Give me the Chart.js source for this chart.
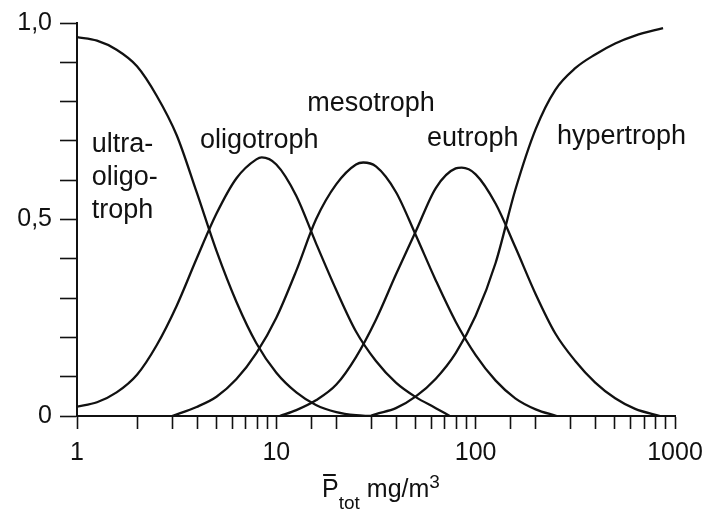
<!DOCTYPE html>
<html>
<head>
<meta charset="utf-8">
<script src="https://cdn.jsdelivr.net/npm/chart.js@4"></script>
<style>
  body { margin: 0; background: #fff; }
  #wrap { width: 706px; height: 513px; }
</style>
</head>
<body>
<div id="wrap"><canvas id="trophie" width="706" height="513"></canvas></div>
<script>
const ultraX = [1, 1.26, 1.58, 2.0, 2.51, 3.16, 3.98, 5.01, 6.31, 7.94, 10, 12.6, 15.8, 20.0, 25.1, 29.5];
const ultraY = [0.964, 0.955, 0.932, 0.89, 0.815, 0.715, 0.57, 0.42, 0.29, 0.185, 0.11, 0.06, 0.028, 0.01, 0.002, 0];

const oligoX = [1, 1.26, 1.58, 2.0, 2.51, 3.16, 3.98, 5.01, 6.31, 7.94, 8.45, 10, 12.6, 15.8, 20.0, 25.1, 31.6, 39.8, 50.1, 63.1, 74.1];
const oligoY = [0.024, 0.035, 0.06, 0.105, 0.18, 0.28, 0.40, 0.515, 0.605, 0.653, 0.658, 0.64, 0.56, 0.44, 0.32, 0.215, 0.14, 0.085, 0.048, 0.02, 0];

const mesoX = [3.0, 3.98, 5.01, 6.31, 7.94, 10, 12.6, 15.8, 20.0, 25.1, 27.3, 31.6, 39.8, 50.1, 63.1, 79.4, 100, 126, 158, 200, 255];
const mesoY = [0, 0.023, 0.049, 0.094, 0.16, 0.25, 0.37, 0.50, 0.59, 0.64, 0.645, 0.635, 0.57, 0.46, 0.345, 0.24, 0.155, 0.09, 0.045, 0.017, 0];

const eutroX = [10.4, 12.6, 15.8, 20.0, 25.1, 31.6, 39.8, 50.1, 63.1, 79.4, 85.1, 100, 126, 158, 200, 251, 316, 398, 501, 631, 841];
const eutroY = [0, 0.015, 0.04, 0.08, 0.15, 0.245, 0.36, 0.47, 0.58, 0.63, 0.632, 0.615, 0.54, 0.43, 0.31, 0.21, 0.14, 0.085, 0.045, 0.018, 0];

const hyperX = [29.5, 31.6, 39.8, 50.1, 63.1, 79.4, 100, 126, 158, 200, 251, 316, 398, 501, 631, 871];
const hyperY = [0, 0.005, 0.02, 0.05, 0.095, 0.16, 0.255, 0.39, 0.575, 0.73, 0.83, 0.885, 0.92, 0.948, 0.968, 0.987];

const xTickLabels = [1, 10, 100, 1000];
const yTickLabels = { 0: '0', 5: '0,5', 10: '1,0' };

const kurvenNamen = ['ultra-oligotroph', 'oligotroph', 'mesotroph', 'eutroph', 'hypertroph'];

// Beschriftungen im Diagramm (x, y in Datenkoordinaten, linke Grundlinie)
const beschriftung = [
  { text: 'ultra-', x: 1.185, y: 0.672 },
  { text: 'oligo-', x: 1.185, y: 0.588 },
  { text: 'troph', x: 1.185, y: 0.505 },
  { text: 'oligotroph', x: 4.14, y: 0.682 },
  { text: 'mesotroph', x: 14.3, y: 0.776 },
  { text: 'eutroph', x: 57.0, y: 0.687 },
  { text: 'hypertroph', x: 256, y: 0.692 }
];

const FONT = '"Liberation Sans", Arial, Helvetica, sans-serif';

function punkte(xs, ys) {
  return xs.map((v, i) => ({ x: v, y: ys[i] }));
}

const serien = [
  punkte(ultraX, ultraY),
  punkte(oligoX, oligoY),
  punkte(mesoX, mesoY),
  punkte(eutroX, eutroY),
  punkte(hyperX, hyperY)
];

const textPlugin = {
  id: 'texte',
  afterDraw(chart) {
    const { ctx, chartArea, scales } = chart;
    const x = scales.x, y = scales.y;
    ctx.save();
    ctx.fillStyle = '#111';
    ctx.textBaseline = 'alphabetic';
    ctx.textAlign = 'left';
    ctx.font = '27px ' + FONT;
    beschriftung.forEach(b => {
      ctx.fillText(b.text, x.getPixelForValue(b.x), y.getPixelForValue(b.y));
    });

    // Achsentitel: P (mit Strich) tot mg/m3
    const base = chartArea.bottom + 81;
    const big = '25px ' + FONT, small = '19px ' + FONT;
    ctx.font = big;
    const wP = ctx.measureText('P').width;
    const wM = ctx.measureText(' mg/m').width;
    ctx.font = small;
    const wTot = ctx.measureText('tot').width;
    const w3 = ctx.measureText('3').width;
    const total = wP + wTot + wM + w3;
    let cx = (chartArea.left + chartArea.right) / 2 + 5 - total / 2;

    ctx.font = big;
    ctx.fillText('P', cx, base);
    ctx.strokeStyle = '#111';
    ctx.lineWidth = 2;
    ctx.beginPath();
    ctx.moveTo(cx + 1, base - 22);
    ctx.lineTo(cx + wP - 3, base - 22);
    ctx.stroke();
    cx += wP;
    ctx.font = small;
    ctx.fillText('tot', cx, base + 12);
    cx += wTot;
    ctx.font = big;
    ctx.fillText(' mg/m', cx, base);
    cx += wM;
    ctx.font = small;
    ctx.fillText('3', cx, base - 9);
    ctx.restore();
  }
};

const ctx = document.getElementById('trophie');

new Chart(ctx, {
  type: 'line',
  data: {
    datasets: serien.map((d, i) => ({
      label: kurvenNamen[i],
      data: d,
      borderColor: '#111',
      borderWidth: 2.3,
      pointRadius: 0,
      fill: false,
      cubicInterpolationMode: 'monotone'
    }))
  },
  options: {
    responsive: false,
    animation: false,
    layout: { padding: { top: 22, right: 31, left: 0, bottom: 0 } },
    plugins: {
      legend: { display: false },
      tooltip: { enabled: false }
    },
    scales: {
      x: {
        type: 'logarithmic',
        min: 1,
        max: 1000,
        afterFit: s => { s.height = 97; s.paddingRight = 0; s.paddingLeft = 0; },
        border: { display: true, color: '#111', width: 2 },
        grid: {
          drawOnChartArea: false,
          drawTicks: true,
          tickLength: 13,
          tickColor: '#111',
          tickWidth: 1.6
        },
        ticks: {
          autoSkip: false,
          maxRotation: 0,
          padding: 9,
          color: '#111',
          font: { family: FONT, size: 25 },
          callback: v => xTickLabels.includes(v) ? String(v) : ''
        }
      },
      y: {
        min: 0,
        max: 1,
        afterFit: s => { s.width = 77; },
        border: { display: true, color: '#111', width: 2 },
        grid: {
          drawOnChartArea: false,
          drawTicks: true,
          tickLength: 17,
          tickColor: '#111',
          tickWidth: 1.6
        },
        ticks: {
          stepSize: 0.1,
          padding: 8,
          color: '#111',
          font: { family: FONT, size: 25 },
          callback: v => yTickLabels[Math.round(v * 10)] || ''
        }
      }
    }
  },
  plugins: [textPlugin]
});
</script>
</body>
</html>
